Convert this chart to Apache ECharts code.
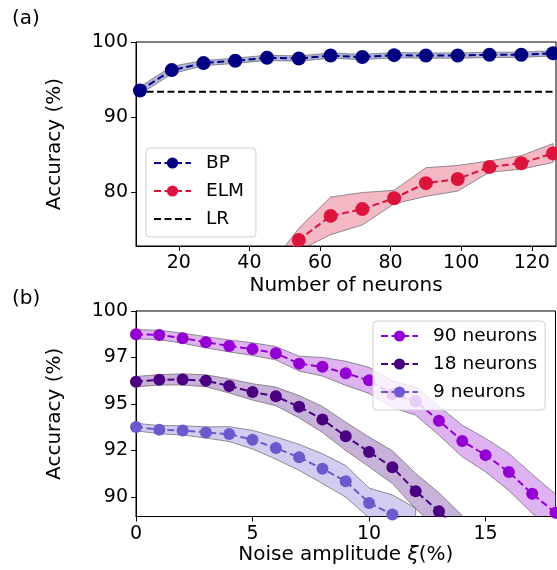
<!DOCTYPE html>
<html><head><meta charset="utf-8">
<script src="https://cdn.jsdelivr.net/npm/echarts@6/dist/echarts.min.js"></script>
<style>html,body{margin:0;padding:0;background:#fff}#c{width:557px;height:570px}</style>
</head><body><div id="c"></div>
<script>
// ---------- Panel (a) data ----------
const neurons = [9,18,27,36,45,54,63,72,81,90,99,108,117,126];
const bpMean  = [93.56,96.27,97.2,97.5,97.9,97.8,98.2,98.0,98.25,98.2,98.2,98.3,98.3,98.5];
const bpLow   = [93.06,95.77,96.85,97.15,97.55,97.45,97.85,97.65,97.9,97.85,97.85,97.95,97.95,98.15];
const bpHigh  = [94.06,96.77,97.55,97.85,98.25,98.15,98.55,98.35,98.6,98.55,98.55,98.65,98.65,98.85];
const elmNeurons = [45,54,63,72,81,90,99,108,117,126];
const elmMean = [68.0,73.7,76.9,77.8,79.25,81.25,81.8,83.4,83.9,85.2];
const elmLow  = [66.0,72.3,74.4,75.7,78.5,79.5,80.2,82.7,83.1,84.0];
const elmHigh = [69.8,75.25,79.4,80.0,80.3,83.3,83.6,84.2,84.9,86.5];
const lrAccuracy = 93.4;
const xTicksA = [20,40,60,80,100,120];
const yTicksA = [80,90,100];

// ---------- Panel (b) data ----------
const noise = [0,1,2,3,4,5,6,7,8,9,10,11,12,13,14,15,16,17,18];
const acc90     = [98.75,98.71,98.54,98.32,98.12,97.95,97.73,97.17,97.0,96.65,96.27,95.53,95.15,94.1,93.01,92.25,91.34,90.17,89.15];
const acc90Low  = [98.50,98.46,98.27,98.02,97.80,97.61,97.37,96.77,96.50,96.00,95.57,94.81,94.40,93.32,92.16,91.35,90.34,89.12,88.15];
const acc90High = [99.00,98.96,98.81,98.62,98.44,98.29,98.09,97.57,97.50,97.30,96.97,96.25,95.90,94.88,93.86,93.15,92.34,91.22,90.15];
const acc18     = [96.2,96.3,96.32,96.25,95.97,95.65,95.41,94.85,94.17,93.26,92.42,91.6,90.31,89.23,88.0];
const acc18Low  = [95.92,96.02,96.02,95.93,95.59,95.21,94.91,94.25,93.47,92.50,91.62,90.72,89.36,88.23,87.0];
const acc18High = [96.48,96.58,96.62,96.57,96.35,96.09,95.91,95.45,94.87,94.02,93.22,92.48,91.26,90.23,89.0];
const acc9      = [93.76,93.62,93.58,93.47,93.38,93.08,92.63,92.13,91.52,90.84,89.68,89.06,88.3];
const acc9Low   = [93.56,93.40,93.33,93.17,92.98,92.58,92.03,91.43,90.72,89.99,88.88,88.01,87.2];
const acc9High  = [93.96,93.84,93.83,93.77,93.78,93.58,93.23,92.83,92.32,91.69,90.48,90.11,89.4];
const xTicksB = [0,5,10,15];
const yTicksB = [90,92.5,95,97.5,100];

// ---------- helpers ----------
const FONT = 'DejaVu Sans';
const DASH = [7,3.5];
function pts(xs, ys){ return ys.map((y,i)=>[xs[i], y]); }
function band(id, xs, lo, hi, rgb, gi){
  const n = lo.length;
  return {type:'custom', name:id+'_band', xAxisIndex:gi, yAxisIndex:gi, silent:true, z:1, clip:true,
    data: lo.map((l,i)=>[xs[i], l, hi[i]]),
    encode:{x:0, y:[1,2]},
    renderItem:function(params, api){
      if (params.dataIndex !== 0) return null;
      const p = [];
      for (let i=0;i<n;i++) p.push(api.coord([xs[i], hi[i]]));
      for (let i=n-1;i>=0;i--) p.push(api.coord([xs[i], lo[i]]));
      const cs = params.coordSys;
      return {type:'group',
        clipPath:{type:'rect', shape:{x:cs.x, y:cs.y, width:cs.width, height:cs.height}},
        children:[{type:'polygon', shape:{points:p},
          style:{fill:'rgba('+rgb+',0.3)', stroke:'rgba(110,110,110,0.75)', lineWidth:1}}]};
    }, animation:false};
}
function main(name, xs, ys, color, size, gi){
  return {type:'line', name:name, xAxisIndex:gi, yAxisIndex:gi, data:pts(xs, ys),
    symbol:'circle', symbolSize:size, itemStyle:{color:color},
    lineStyle:{color:color, width:2, type:DASH}, z:3, animation:false};
}
function xAxisCfg(gi, min, max, ticks, name, gap){
  return {type:'value', gridIndex:gi, min:min, max:max, name:name, nameLocation:'middle', nameGap:gap,
    nameTextStyle:{fontFamily:FONT, fontSize:20, color:'#000',
      rich:{i:{fontFamily:FONT, fontSize:20, fontStyle:'italic', color:'#000'}}},
    axisLine:{show:true, lineStyle:{color:'#000', width:1}},
    axisTick:{show:true, length:5, lineStyle:{color:'#000'}, customValues:ticks},
    axisLabel:{fontFamily:FONT, fontSize:19, color:'#000', margin:8, customValues:ticks},
    splitLine:{show:false}};
}
function yAxisCfg(gi, min, max, ticks, fmt){
  return {type:'value', gridIndex:gi, min:min, max:max, name:'Accuracy (%)', nameLocation:'middle', nameGap:71,
    nameTextStyle:{fontFamily:FONT, fontSize:20, color:'#000'},
    axisLine:{show:true, lineStyle:{color:'#000', width:1}},
    axisTick:{show:true, length:5, lineStyle:{color:'#000'}, customValues:ticks},
    axisLabel:{fontFamily:FONT, fontSize:19, color:'#000', margin:8, customValues:ticks, formatter:fmt},
    splitLine:{show:false}};
}
const legendBase = {orient:'vertical', itemWidth:37, itemHeight:14, itemGap:8,
  backgroundColor:'rgba(255,255,255,0.8)', borderColor:'#d0d0d0', borderWidth:1, borderRadius:4,
  textStyle:{fontFamily:FONT, fontSize:18.5, color:'#000', lineHeight:20, padding:[0,0,0,10]}};

const xMinA = 7.87, xMaxA = 126.85;
const series = [
  band('bp', neurons, bpLow, bpHigh, '0,0,128', 0),
  band('elm', elmNeurons, elmLow, elmHigh, '220,20,60', 0),
  {type:'line', name:'LR', xAxisIndex:0, yAxisIndex:0, data:[[xMinA, lrAccuracy],[xMaxA, lrAccuracy]],
    symbol:'none', lineStyle:{color:'#000', width:2, type:DASH}, itemStyle:{color:'#000'}, z:2, animation:false},
  main('BP', neurons, bpMean, '#000080', 14, 0),
  main('ELM', elmNeurons, elmMean, '#DC143C', 14, 0),
  band('n9', noise, acc9Low, acc9High, '106,90,205', 1),
  band('n18', noise, acc18Low, acc18High, '75,0,130', 1),
  band('n90', noise, acc90Low, acc90High, '148,0,211', 1),
  main('9 neurons', noise, acc9, '#6A5ACD', 12, 1),
  main('18 neurons', noise, acc18, '#4B0082', 12, 1),
  main('90 neurons', noise, acc90, '#9400D3', 12, 1)
];

const chart = echarts.init(document.getElementById('c'), null, {renderer:'canvas'});
chart.setOption({
  animation:false,
  backgroundColor:'#fff',
  textStyle:{fontFamily:FONT},
  grid:[
    {left:136, top:42, width:420, height:204, show:true, borderColor:'#000', borderWidth:1, backgroundColor:'transparent'},
    {left:136, top:311, width:419.5, height:205.5, show:true, borderColor:'#000', borderWidth:1, backgroundColor:'transparent'}
  ],
  xAxis:[
    xAxisCfg(0, xMinA, xMaxA, xTicksA, 'Number of neurons', 30),
    xAxisCfg(1, 0, 18, xTicksB, 'Noise amplitude {i|\u03BE}(%)', 26)
  ],
  yAxis:[
    yAxisCfg(0, 72.9, 100, yTicksA, v=>String(Math.floor(v))),
    yAxisCfg(1, 88.95, 100, yTicksB, v=>String(Math.floor(v)))
  ],
  legend:[
    Object.assign({}, legendBase, {left:146, top:148, padding:[5,12,8,7],
      data:['BP','ELM',{name:'LR', itemStyle:{opacity:0}}]}),
    Object.assign({}, legendBase, {left:373, top:321, padding:[5,8,8,7], data:['90 neurons','18 neurons','9 neurons']})
  ],
  graphic:[
    {type:'text', left:12, top:9, style:{text:'(a)', font:'20px "DejaVu Sans"', fill:'#000'}},
    {type:'text', left:12, top:289, style:{text:'(b)', font:'20px "DejaVu Sans"', fill:'#000'}}
  ],
  series:series
});
</script></body></html>
